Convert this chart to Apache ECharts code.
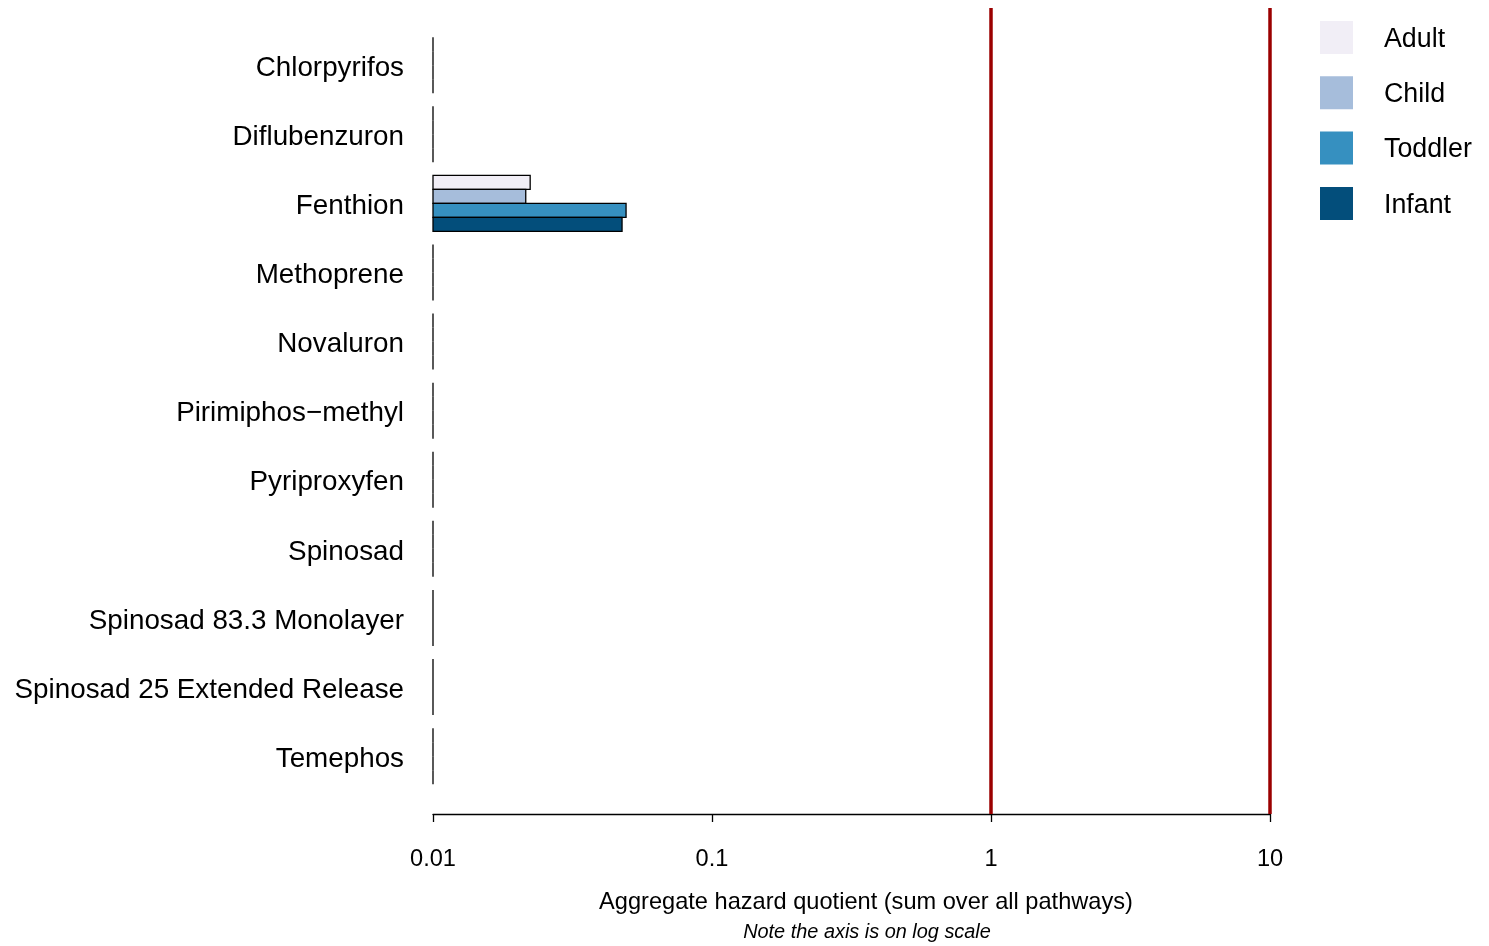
<!DOCTYPE html>
<html><head><meta charset="utf-8">
<script src="https://cdn.jsdelivr.net/npm/echarts@6/dist/echarts.min.js"></script>
<style>html,body{margin:0;padding:0;background:#fff}#c{width:1489px;height:946px}</style>
</head><body><div id="c"></div>
<script>
const categories = ['Chlorpyrifos','Diflubenzuron','Fenthion','Methoprene','Novaluron','Pirimiphos\u2212methyl','Pyriproxyfen','Spinosad','Spinosad 83.3 Monolayer','Spinosad 25 Extended Release','Temephos'];
const seriesNames = ['Adult','Child','Toddler','Infant'];
const adult   = [0.001, 0.001, 0.0223, 0.001, 0.001, 0.001, 0.001, 0.001, 0.001, 0.001, 0.001];
const child   = [0.001, 0.001, 0.0215, 0.001, 0.001, 0.001, 0.001, 0.001, 0.001, 0.001, 0.001];
const toddler = [0.001, 0.001, 0.0492, 0.001, 0.001, 0.001, 0.001, 0.001, 0.001, 0.001, 0.001];
const infant  = [0.001, 0.001, 0.0476, 0.001, 0.001, 0.001, 0.001, 0.001, 0.001, 0.001, 0.001];
const thresholds = [1, 10];
const xMin = 0.01, xMax = 10;
const tickLabels = ['0.01','0.1','1','10'];
const colors = ['#F1EEF6','#A6BDDB','#3690C0','#034E7B'];
const FONT = 'Liberation Sans, Arial, Helvetica, sans-serif';

const allValues = [adult, child, toddler, infant];

function makeRender(slot){
  return function(params, api){
    const v = api.value(0), ci = api.value(1);
    const p0 = api.coord([xMin, ci]);
    const p1 = api.coord([Math.max(v, xMin), ci]);
    const band = api.size([1, 1])[1];
    const h = band * 0.2026;
    const y = p0[1] - 2 * h + slot * h;
    return {type:'rect', shape:{x:p0[0], y:y, width:p1[0]-p0[0], height:h},
      style:{fill: api.visual('color'), stroke:'#000', lineWidth:1.3}};
  };
}

const series = seriesNames.map((n, i) => ({
  name: n, type: 'custom', xAxisIndex: 0, yAxisIndex: 0,
  renderItem: makeRender(i),
  itemStyle: {color: colors[i]},
  encode: {x: 0, y: 1},
  data: allValues[i].map((v, ci) => [v, ci])
}));

series.push({
  type: 'line', xAxisIndex: 1, yAxisIndex: 1, data: [], silent: true,
  markLine: {
    symbol: 'none', silent: true, animation: false,
    label: {show: false},
    lineStyle: {color: '#9B0000', width: 3.5, type: 'solid'},
    data: thresholds.map(t => ({xAxis: t}))
  }
});

const chart = echarts.init(document.getElementById('c'), null, {renderer: 'canvas'});
chart.setOption({
  animation: false,
  backgroundColor: '#fff',
  grid: [
    {left: 433, right: 219, top: 30.6, bottom: 155.3},
    {left: 433, right: 219, top: 8, bottom: 132}
  ],
  xAxis: [
    {type: 'log', gridIndex: 0, min: xMin, max: xMax, logBase: 10, show: false},
    {type: 'log', gridIndex: 1, min: xMin, max: xMax, logBase: 10,
     axisLine: {show: true, lineStyle: {color: '#000', width: 1.3}},
     axisTick: {show: true, length: 8, lineStyle: {color: '#000', width: 1.3}},
     splitLine: {show: false}, minorTick: {show: false},
     axisLabel: {color: '#000', fontSize: 23.6, fontFamily: FONT, margin: 33,
       formatter: function(v){ const k = Math.round(Math.log10(v) - Math.log10(xMin)); return tickLabels[k] !== undefined ? tickLabels[k] : ''; }}
    }
  ],
  yAxis: [
    {type: 'category', gridIndex: 0, data: categories, inverse: true,
     axisLine: {show: false}, axisTick: {show: false}, splitLine: {show: false},
     axisLabel: {color: '#000', fontSize: 27.8, fontFamily: FONT, margin: 29,
       formatter: v => '{c|' + v + '}',
       rich: {c: {color: '#000', fontSize: 27.8, fontFamily: FONT, padding: [6, 0, 0, 0]}}}},
    {type: 'value', gridIndex: 1, min: 0, max: 1, show: false}
  ],
  legend: {
    orient: 'vertical', left: 1320, top: 21, padding: 0,
    itemWidth: 33, itemHeight: 33, itemGap: 22.3,
    icon: 'rect',
    data: seriesNames,
    itemStyle: {borderWidth: 0},
    formatter: n => '{t|' + n + '}',
    textStyle: {color: '#000', fontSize: 26.8, fontFamily: FONT,
      rich: {t: {color: '#000', fontSize: 26.8, fontFamily: FONT, padding: [4, 0, 0, 26]}}}
  },
  graphic: [
    {type: 'text', x: 866, y: 902, silent: true,
     style: {text: 'Aggregate hazard quotient (sum over all pathways)', fill: '#000', font: '23.6px ' + FONT, textAlign: 'center', textVerticalAlign: 'middle'}},
    {type: 'text', x: 867, y: 932, silent: true,
     style: {text: 'Note the axis is on log scale', fill: '#000', font: 'italic 19.9px ' + FONT, textAlign: 'center', textVerticalAlign: 'middle'}}
  ],
  series: series
});
</script></body></html>
